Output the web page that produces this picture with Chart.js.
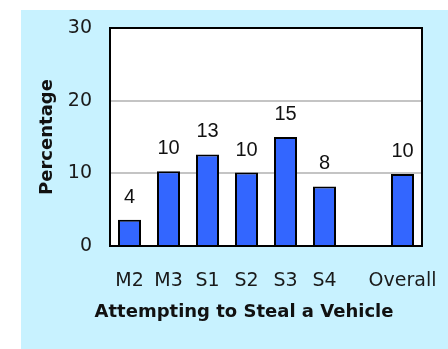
<!DOCTYPE html>
<html>
<head>
<meta charset="utf-8">
<script src="https://cdn.jsdelivr.net/npm/chart.js@4"></script>
<style>
  html, body { margin: 0; padding: 0; background: #fff; }
  #wrap { width: 448px; height: 349px; }
</style>
</head>
<body>
<div id="wrap"><canvas id="chart" width="448" height="349"></canvas></div>
<script>
// Data
const categories = ['M2', 'M3', 'S1', 'S2', 'S3', 'S4', '', 'Overall'];
const values     = [3.6, 10.3, 12.6, 10.1, 15.0, 8.2, null, 9.9];
const yTicks     = [0, 10, 20, 30];

const xTitle = 'Attempting to Steal a Vehicle';
const yTitle = 'Percentage';

const PANEL = '#C8F2FF';
const BAR   = '#3366FF';

// light blue panel + white plot area
const backdrop = {
  id: 'backdrop',
  beforeDraw(chart) {
    const { ctx, chartArea: a } = chart;
    ctx.save();
    ctx.fillStyle = PANEL;
    ctx.fillRect(21, 10, chart.width - 21, chart.height - 10);
    ctx.fillStyle = '#fff';
    ctx.fillRect(a.left, a.top, a.right - a.left, a.bottom - a.top);
    ctx.restore();
  },
  afterDatasetsDraw(chart) {
    const { ctx, chartArea: a } = chart;
    ctx.save();
    ctx.strokeStyle = '#000';
    ctx.lineWidth = 2;
    ctx.strokeRect(a.left, a.top, a.right - a.left, a.bottom - a.top);
    ctx.restore();
  }
};

// value labels over the bars
const barLabels = {
  id: 'barLabels',
  afterDatasetsDraw(chart) {
    const { ctx } = chart;
    const meta = chart.getDatasetMeta(0);
    ctx.save();
    ctx.font = '20px "Liberation Sans", Arial, sans-serif';
    ctx.fillStyle = '#111';
    ctx.textAlign = 'center';
    ctx.textBaseline = 'alphabetic';
    meta.data.forEach((bar, i) => {
      if (values[i] == null) return;
      ctx.fillText(String(Math.round(values[i])), bar.x, bar.y - 17);
    });
    ctx.restore();
  }
};

// x axis title, sits a little left of the plot centre in the original
const xTitlePlugin = {
  id: 'xTitle',
  afterDraw(chart) {
    const { ctx } = chart;
    ctx.save();
    ctx.font = 'bold 18px "DejaVu Sans", sans-serif';
    ctx.fillStyle = '#111';
    ctx.textAlign = 'center';
    ctx.textBaseline = 'middle';
    ctx.fillText(xTitle, 244, 312);
    ctx.restore();
  }
};

new Chart(document.getElementById('chart'), {
  type: 'bar',
  data: {
    labels: categories,
    datasets: [{
      data: values,
      backgroundColor: BAR,
      borderColor: '#000',
      borderWidth: 2,
      categoryPercentage: 1,
      barPercentage: 0.59,
    }],
  },
  options: {
    responsive: false,
    animation: false,
    layout: { padding: { left: 0, top: 28, right: 26, bottom: 0 } },
    plugins: {
      legend:  { display: false },
      tooltip: { enabled: false },
    },
    scales: {
      x: {
        grid:   { display: false, drawTicks: false },
        border: { display: false },
        ticks: {
          color: '#1a1a1a',
          font: { family: '"DejaVu Sans", sans-serif', size: 19 },
          padding: 24,
          maxRotation: 0,
          autoSkip: false,
        },
        afterFit(scale) {
          scale.height = 103;
          scale.paddingLeft = 0;
          scale.paddingRight = 0;
        },
      },
      y: {
        min: 0,
        max: 30,
        afterBuildTicks(scale) { scale.ticks = yTicks.map(v => ({ value: v })); },
        grid: {
          drawTicks: false,
          lineWidth: 2,
          color: (c) => (c.tick && (c.tick.value === 10 || c.tick.value === 20)) ? '#C4C4C4' : 'rgba(0,0,0,0)',
        },
        border: { display: false },
        ticks: {
          color: '#1a1a1a',
          font: { family: '"DejaVu Sans", sans-serif', size: 19 },
          padding: 18,
        },
        title: {
          display: true,
          text: yTitle,
          color: '#111',
          font: { family: '"DejaVu Sans", sans-serif', size: 18, weight: 'bold' },
          padding: { top: 37, bottom: 0 },
        },
        afterFit(scale) {
          scale.width = 110;
          scale.paddingTop = 0;
          scale.paddingBottom = 0;
        },
      },
    },
  },
  plugins: [backdrop, barLabels, xTitlePlugin],
});
</script>
</body>
</html>
